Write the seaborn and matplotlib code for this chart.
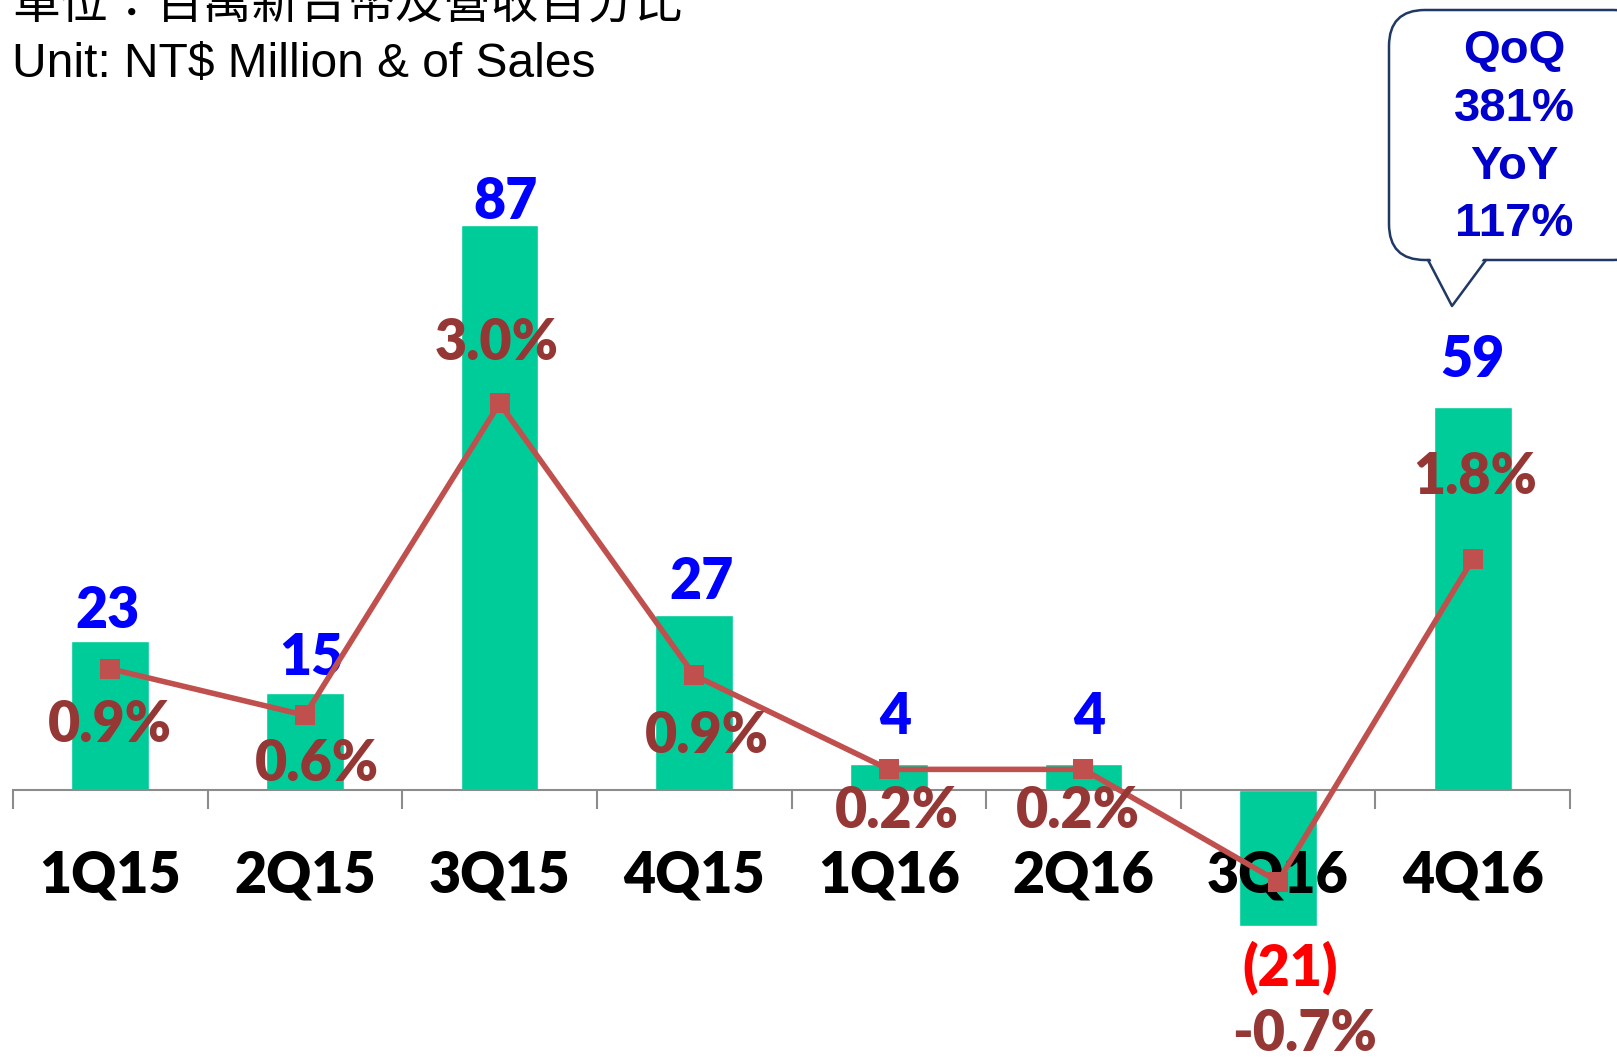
import matplotlib
matplotlib.use("Agg")
import matplotlib.pyplot as plt
import matplotlib.transforms as mtransforms
from matplotlib.patches import FancyBboxPatch, Polygon
from matplotlib.lines import Line2D
import numpy as np
import seaborn as sns

# ---- data ----
quarters = ["1Q15", "2Q15", "3Q15", "4Q15", "1Q16", "2Q16", "3Q16", "4Q16"]
op_income = [23, 15, 87, 27, 4, 4, -21, 59]            # NT$ million
op_margin = [0.94, 0.58, 3.0, 0.89, 0.16, 0.16, -0.71, 1.79]  # % of sales
callout_lines = ["QoQ", "381%", "YoY", "117%"]

# label offsets in pixels (dx, dy)
income_offsets = [(-3, 30), (6, 35), (6, 23), (7, 33), (6, 47), (6, 47), (12, -41), (0, 47)]
margin_offsets = [(0, -56), (12, -49), (-3, 60), (13, -61), (8, -42), (-6, -42), (26, -152), (2, 82)]

W, H = 1617, 1060
sns.set_style("white")
plt.rcParams['font.family'] = ['Lato', 'DejaVu Sans']

fig = plt.figure(figsize=(W / 100, H / 100), dpi=100)
ax = fig.add_axes([13 / W, 0, 1557 / W, 1])

bar_color = "#00CC99"
line_color = "#C0504D"

sns.barplot(x=quarters, y=op_income, color=bar_color, width=0.4, saturation=1, ax=ax, zorder=1)

ymin, ymax = -270 / 6.497, 790 / 6.497
ax.set_ylim(ymin, ymax)
ax.set_xlim(-0.5, 7.5)
ax.set_axisbelow(False)

for s in ["top", "right", "left"]:
    ax.spines[s].set_visible(False)
ax.spines["bottom"].set_position(("data", 0))
ax.spines["bottom"].set_color("#8C8C8C")
ax.spines["bottom"].set_linewidth(1.5)
ax.set_yticks([])
ax.set_xticks(np.arange(-0.5, 8, 1), minor=True)
ax.tick_params(axis="x", which="minor", bottom=True, direction="out", length=14, width=1.5, color="#8C8C8C")
ax.tick_params(axis="x", which="major", bottom=True, length=0, pad=43, labelsize=40)
for lab in ax.get_xticklabels():
    lab.set_fontweight("heavy")
    lab.set_color("black")
ax.set_xlabel("")
ax.set_ylabel("")

for i, (v, off) in enumerate(zip(op_income, income_offsets)):
    txt = f"({abs(v)})" if v < 0 else f"{v}"
    col = "#FF0000" if v < 0 else "#0000FF"
    ax.annotate(txt, (i, v), xytext=off, textcoords="offset pixels",
                ha="center", va="center", fontsize=40, fontweight="heavy", color=col)

# margin line on a twin axis
ax2 = ax.twinx()
ratio = 128.9 / 6.497
ax2.set_ylim(ymin / ratio, ymax / ratio)
sns.lineplot(x=np.arange(len(quarters)), y=op_margin, color=line_color, linewidth=4,
             marker="s", markersize=14, markeredgewidth=0, ax=ax2)
ax2.set_axis_off()
for i, (v, off) in enumerate(zip(op_margin, margin_offsets)):
    ax2.annotate(f"{v:.1f}%", (i, v), xytext=off, textcoords="offset pixels",
                 ha="center", va="center", fontsize=40, fontweight="heavy", color="#953735")

# titles
px = mtransforms.Affine2D().scale(1 / W, -1 / H).translate(0, 1) + fig.transFigure
fig.text(12, 5, "單位：百萬新台幣及營收百分比", transform=px, ha="left", va="center",
         fontsize=34.5, family=["Noto Sans CJK TC", "DejaVu Sans"], color="black")
fig.text(12, 65, "Unit: NT$ Million & of Sales", transform=px, ha="left", va="center",
         fontsize=34.5, family=["Liberation Sans", "DejaVu Sans"], color="black")

# callout
edge = "#1F3864"
box = FancyBboxPatch((1389, 10), 260, 250, boxstyle="round,pad=0,rounding_size=36",
                     transform=px, facecolor="white", edgecolor=edge, lw=1.8, zorder=5)
fig.add_artist(box)
tri = Polygon([(1429, 256), (1452, 306), (1485, 256)], closed=True, transform=px,
              facecolor="white", edgecolor="none", zorder=6)
fig.add_artist(tri)
fig.add_artist(Line2D([1428, 1452, 1486], [260, 306, 260], transform=px,
                      color=edge, lw=1.8, zorder=7))
for y, t in zip([51, 109, 167, 224], callout_lines):
    fig.text(1514, y, t, transform=px, ha="center", va="center", fontsize=34,
             fontweight="bold", family=["Liberation Sans", "DejaVu Sans"], color="#0000CC", zorder=8)

fig.savefig("out.png", dpi=100)
